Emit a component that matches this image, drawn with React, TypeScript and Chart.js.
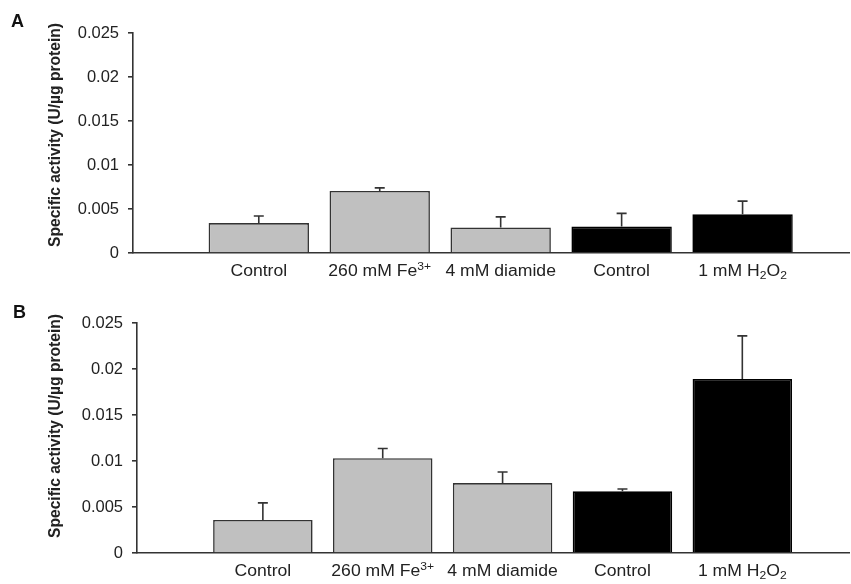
import React, { useEffect, useRef } from "react";
import { Chart, registerables } from "chart.js";

Chart.register(...registerables);

// ---------- data ----------
// ^{..} = superscript, _{..} = subscript
const categories = ["Control", "260 mM Fe^{3+}", "4 mM diamide", "Control", "1 mM H_{2}O_{2}"];
const barFill = ["#c0c0c0", "#c0c0c0", "#c0c0c0", "#000000", "#000000"];
const barEdge = ["#333333", "#333333", "#333333", "#000000", "#000000"];

const panelAValues = [0.0034, 0.00705, 0.0029, 0.003, 0.0044];
const panelAErrors = [0.0008, 0.00035, 0.0012, 0.0015, 0.0015];

const panelBValues = [0.0036, 0.0103, 0.0076, 0.0067, 0.0189];
const panelBErrors = [0.00185, 0.00106, 0.0012, 0.00026, 0.0047];

const yTickValues = [0, 0.005, 0.01, 0.015, 0.02, 0.025];
const yTickLabels = ["0", "0.005", "0.01", "0.015", "0.02", "0.025"];

const yTitle = "Specific activity (U/µg protein)";

const FONT = "'Liberation Sans', Arial, Helvetica, sans-serif";

type Seg = { text: string; kind: "n" | "sup" | "sub" };

function parseLabel(s: string): Seg[] {
  const out: Seg[] = [];
  const re = /(\^\{([^}]*)\}|_\{([^}]*)\})/g;
  let last = 0;
  let m: RegExpExecArray | null;
  while ((m = re.exec(s))) {
    if (m.index > last) out.push({ text: s.slice(last, m.index), kind: "n" });
    if (m[2] !== undefined) out.push({ text: m[2], kind: "sup" });
    else out.push({ text: m[3], kind: "sub" });
    last = m.index + m[0].length;
  }
  if (last < s.length) out.push({ text: s.slice(last), kind: "n" });
  return out;
}

type Panel = {
  letter: string;
  values: number[];
  errors: number[];
  top: number;
  height: number;
  padTop: number;
  yAxisWidth: number;
  xAxisHeight: number;
  xMin: number;
  xMax: number;
  letterX: number;
  letterY: number;
  titleX: number;
  titleY: number;
};

const panels: Panel[] = [
  {
    letter: "A",
    values: panelAValues,
    errors: panelAErrors,
    top: 0,
    height: 292,
    padTop: 33,
    yAxisWidth: 133,
    xAxisHeight: 39,
    xMin: -1.04,
    xMax: 4.88,
    letterX: 11,
    letterY: 27,
    titleX: 56,
    titleY: 135,
  },
  {
    letter: "B",
    values: panelBValues,
    errors: panelBErrors,
    top: 292,
    height: 292,
    padTop: 31,
    yAxisWidth: 137,
    xAxisHeight: 31,
    xMin: -1.05,
    xMax: 4.89,
    letterX: 13,
    letterY: 26,
    titleX: 56,
    titleY: 134,
  },
];

function PanelChart({ p }: { p: Panel }) {
  const ref = useRef<HTMLCanvasElement | null>(null);

  useEffect(() => {
    if (!ref.current) return;

    const decorPlugin = {
      id: "decor" + p.letter,
      afterDatasetsDraw(chart: any) {
        const ctx = chart.ctx;
        const ys = chart.scales.y;
        const meta = chart.getDatasetMeta(0);
        ctx.save();
        ctx.strokeStyle = "#333333";
        ctx.lineWidth = 1.6;
        meta.data.forEach((bar: any, i: number) => {
          const v = p.values[i];
          const yBase = ys.getPixelForValue(v);
          const yTop = ys.getPixelForValue(v + p.errors[i]);
          ctx.beginPath();
          ctx.moveTo(bar.x, yBase);
          ctx.lineTo(bar.x, yTop);
          ctx.moveTo(bar.x - 5, yTop);
          ctx.lineTo(bar.x + 5, yTop);
          ctx.stroke();
        });
        ctx.restore();
      },
      afterDraw(chart: any) {
        const ctx = chart.ctx;
        const xs = chart.scales.x;
        const bottom = chart.chartArea.bottom;

        // category labels with super/subscripts
        ctx.save();
        ctx.fillStyle = "#222222";
        ctx.textBaseline = "alphabetic";
        ctx.textAlign = "left";
        const mainFont = `16px ${FONT}`;
        const smallFont = `11px ${FONT}`;
        categories.forEach((label, i) => {
          const segs = parseLabel(label);
          let w = 0;
          segs.forEach((s) => {
            ctx.font = s.kind === "n" ? mainFont : smallFont;
            w += ctx.measureText(s.text).width;
          });
          const cx = xs.getPixelForValue(i);
          ctx.save();
          ctx.translate(cx, bottom + 23);
          ctx.scale(1.1, 1);
          let x = -w / 2;
          segs.forEach((s) => {
            ctx.font = s.kind === "n" ? mainFont : smallFont;
            const dy = s.kind === "sup" ? -6 : s.kind === "sub" ? 3 : 0;
            ctx.fillText(s.text, x, dy);
            x += ctx.measureText(s.text).width;
          });
          ctx.restore();
        });
        ctx.restore();

        ctx.save();
        ctx.fillStyle = "#111111";
        ctx.font = `bold 18px ${FONT}`;
        ctx.textAlign = "left";
        ctx.textBaseline = "alphabetic";
        ctx.fillText(p.letter, p.letterX, p.letterY);
        ctx.translate(p.titleX, p.titleY);
        ctx.rotate(-Math.PI / 2);
        ctx.font = `bold 15.6px ${FONT}`;
        ctx.fillStyle = "#222222";
        ctx.textAlign = "center";
        ctx.textBaseline = "middle";
        ctx.fillText(yTitle, 0, 0);
        ctx.restore();
      },
    };

    const chart = new Chart(ref.current, {
      type: "bar",
      data: {
        datasets: [
          {
            data: p.values.map((v, i) => ({ x: i, y: v })),
            backgroundColor: barFill,
            borderColor: barEdge,
            borderWidth: 1.6,
            categoryPercentage: 1,
            barPercentage: 0.83,
          },
        ],
      },
      options: {
        responsive: false,
        animation: false,
        layout: { padding: { top: p.padTop, right: 2, left: 0, bottom: 0 } },
        plugins: {
          legend: { display: false },
          tooltip: { enabled: false },
        },
        scales: {
          x: {
            type: "linear",
            offset: false,
            min: p.xMin,
            max: p.xMax,
            afterFit: (s: any) => {
              s.height = p.xAxisHeight;
            },
            grid: { display: false, drawTicks: false, offset: false },
            border: { display: true, color: "#333333", width: 1.6 },
            ticks: {
              display: false,
              stepSize: 1,
              includeBounds: false,
              autoSkip: false,
              maxRotation: 0,
              minRotation: 0,
            },
          },
          y: {
            min: 0,
            max: 0.025,
            afterFit: (s: any) => {
              s.width = p.yAxisWidth;
            },
            afterBuildTicks: (s: any) => {
              s.ticks = yTickValues.map((v) => ({ value: v }));
            },
            grid: {
              display: true,
              drawOnChartArea: false,
              drawTicks: true,
              tickLength: 5,
              color: "#333333",
              lineWidth: 1.6,
            },
            border: { display: true, color: "#333333", width: 1.6 },
            ticks: {
              padding: 9,
              color: "#222222",
              font: { family: FONT, size: 16.5 },
              callback: (_v: any, i: number) => yTickLabels[i],
            },
          },
        },
      },
      plugins: [decorPlugin],
    } as any);

    return () => chart.destroy();
  }, [p]);

  return (
    <canvas
      ref={ref}
      width={851}
      height={p.height}
      style={{ position: "absolute", left: 0, top: p.top, width: 851, height: p.height, display: "block" }}
    />
  );
}

export default function App() {
  return (
    <div
      style={{
        position: "absolute",
        left: 0,
        top: 0,
        width: 851,
        height: 584,
        background: "#ffffff",
        overflow: "hidden",
      }}
    >
      {panels.map((p) => (
        <PanelChart key={p.letter} p={p} />
      ))}
    </div>
  );
}
